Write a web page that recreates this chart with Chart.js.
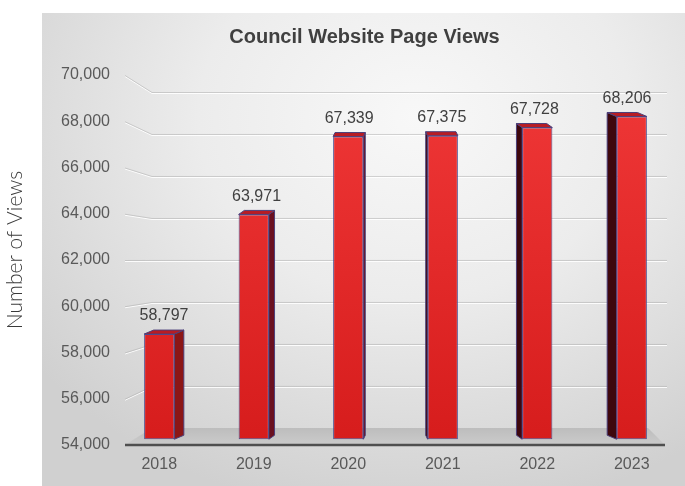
<!DOCTYPE html>
<html lang="en">
<head>
  <meta charset="UTF-8">
  <title>Council Website Page Views</title>
  <script src="https://cdn.jsdelivr.net/npm/chart.js"></script>
  <style>
    html, body {
      margin: 0;
      padding: 0;
      background: #ffffff;
    }
    .panel {
      position: absolute;
      left: 42px;
      top: 13px;
      width: 643px;
      height: 473px;
      background: radial-gradient(ellipse 75% 85% at 58% 22%, #f8f8f8 0%, #ececec 45%, #d0d0d0 100%);
    }
    .chart-box {
      position: absolute;
      left: 0;
      top: 0;
      width: 685px;
      height: 486px;
    }
  </style>
</head>
<body>
  <div class="panel"></div>
  <div class="chart-box">
    <canvas id="viewsChart"></canvas>
  </div>

  <script>
    const years = ['2018', '2019', '2020', '2021', '2022', '2023'];
    const pageViews = [58797, 63971, 67339, 67375, 67728, 68206];
    const yMin = 54000;
    const yMax = 70000;
    const yStep = 2000;
    const yTitle = 'Number of Views';

    const fmt = v => v.toLocaleString('en-US');

    // fake 3D: floor, back wall grid, side/top faces of the bars, value labels
    const depthPlugin = {
      id: 'depth',
      beforeDatasetsDraw(chart) {
        const { ctx, chartArea: a, scales: { y } } = chart;
        const backTop = a.top + 17;
        const k = 0.908;
        const backY = v => backTop + (y.getPixelForValue(v) - a.top) * k;

        ctx.save();
        // floor
        const fb = a.bottom, bb = a.bottom - 17;
        const grad = ctx.createLinearGradient(0, bb, 0, fb);
        grad.addColorStop(0, '#bdbdbd');
        grad.addColorStop(1, '#cbcbcb');
        ctx.fillStyle = grad;
        ctx.beginPath();
        ctx.moveTo(a.left + 13, fb);
        ctx.lineTo(a.right - 14, fb);
        ctx.lineTo(a.right - 31, bb);
        ctx.lineTo(a.left + 40, bb);
        ctx.closePath();
        ctx.fill();

        // back wall grid lines
        ctx.lineWidth = 1;
        for (let v = yMin + yStep; v <= yMax; v += yStep) {
          const fy = y.getPixelForValue(v);
          const by = backY(v);
          ctx.strokeStyle = 'rgba(255,255,255,0.9)';
          ctx.beginPath();
          ctx.moveTo(a.left + 13, fy + 1.5);
          ctx.lineTo(a.left + 40, by + 1.5);
          ctx.lineTo(a.right - 12, by + 1.5);
          ctx.stroke();
          ctx.strokeStyle = 'rgba(170,170,170,0.5)';
          ctx.beginPath();
          ctx.moveTo(a.left + 13, fy + 0.5);
          ctx.lineTo(a.left + 40, by + 0.5);
          ctx.lineTo(a.right - 12, by + 0.5);
          ctx.stroke();
        }

        // side and top faces
        const vx = (a.left + a.right) / 2;
        const dy = -4;
        chart.getDatasetMeta(0).data.forEach(bar => {
          const half = bar.width / 2;
          const l = bar.x - half, r = bar.x + half;
          const t = bar.y, b = bar.base;
          const dx = (vx - bar.x) * 0.04;
          ctx.strokeStyle = '#4b3f7a';
          ctx.lineWidth = 1;
          // side
          const sx = dx > 0 ? r : l;
          ctx.fillStyle = dx > 0 ? (Math.abs(dx) > 6 ? '#8c1616' : '#6a1020') : '#3e070d';
          ctx.beginPath();
          ctx.moveTo(sx, t);
          ctx.lineTo(sx + dx, t + dy);
          ctx.lineTo(sx + dx, b + dy);
          ctx.lineTo(sx, b);
          ctx.closePath();
          ctx.fill();
          ctx.stroke();
          // top
          ctx.fillStyle = '#b81c24';
          ctx.beginPath();
          ctx.moveTo(l, t);
          ctx.lineTo(l + dx, t + dy);
          ctx.lineTo(r + dx, t + dy);
          ctx.lineTo(r, t);
          ctx.closePath();
          ctx.fill();
          ctx.stroke();
        });
        ctx.restore();
      },
      afterDatasetsDraw(chart) {
        const { ctx, chartArea: a } = chart;
        ctx.save();
        // front edge of the floor
        ctx.strokeStyle = '#4f4f4f';
        ctx.lineWidth = 2.5;
        ctx.beginPath();
        ctx.moveTo(a.left + 13, a.bottom);
        ctx.lineTo(a.right - 14, a.bottom);
        ctx.stroke();

        // value labels
        ctx.fillStyle = '#404040';
        ctx.font = '16px "Liberation Sans", Arial, sans-serif';
        ctx.textAlign = 'center';
        ctx.textBaseline = 'middle';
        const vx = (a.left + a.right) / 2;
        chart.getDatasetMeta(0).data.forEach((bar, i) => {
          const dx = (vx - bar.x) * 0.04;
          ctx.fillText(fmt(pageViews[i]), bar.x + dx / 2, bar.y - 18);
        });

        // y axis title, sits outside the grey panel
        ctx.translate(15, (a.top + a.bottom) / 2 - 10);
        ctx.rotate(-Math.PI / 2);
        ctx.fillStyle = '#3a3a3a';
        ctx.font = '300 21px Lato, "Open Sans", sans-serif';
        ctx.fillText(yTitle, 0, 0);
        ctx.restore();
      }
    };

    const ctx = document.getElementById('viewsChart').getContext('2d');
    const viewsChart = new Chart(ctx, {
      type: 'bar',
      data: {
        labels: years,
        datasets: [{
          data: pageViews,
          base: 54250,
          backgroundColor: c => {
            const a = c.chart.chartArea;
            if (!a) return '#de2222';
            const g = c.chart.ctx.createLinearGradient(0, a.top, 0, a.bottom);
            g.addColorStop(0, '#f03838');
            g.addColorStop(1, '#d61c1c');
            return g;
          },
          borderColor: '#4d4a8c',
          borderWidth: 1,
          borderSkipped: false,
          barPercentage: 0.32,
          categoryPercentage: 1.0
        }]
      },
      options: {
        responsive: true,
        maintainAspectRatio: false,
        animation: false,
        layout: { padding: { left: 50, right: 6, top: 0, bottom: 0 } },
        plugins: {
          legend: { display: false },
          tooltip: { enabled: false },
          title: {
            display: true,
            text: 'Council Website Page Views',
            color: '#404040',
            font: { family: '"Liberation Sans Narrow", "Liberation Sans", Arial, sans-serif', size: 20, weight: 'bold' },
            padding: { top: 25, bottom: 26 }
          }
        },
        scales: {
          x: {
            grid: { display: false, drawTicks: false },
            border: { display: false },
            ticks: {
              color: '#595959',
              padding: 10,
              font: { family: '"Liberation Sans", Arial, sans-serif', size: 16 }
            },
            afterFit(scale) { scale.height = 41; }
          },
          y: {
            min: yMin,
            max: yMax,
            grid: { display: false, drawTicks: false },
            border: { display: false },
            ticks: {
              stepSize: yStep,
              color: '#595959',
              padding: 2,
              font: { family: '"Liberation Sans", Arial, sans-serif', size: 16 },
              callback: v => fmt(v)
            },
            afterFit(scale) { scale.width = 62; }
          }
        }
      },
      plugins: [depthPlugin]
    });
  </script>
</body>
</html>
